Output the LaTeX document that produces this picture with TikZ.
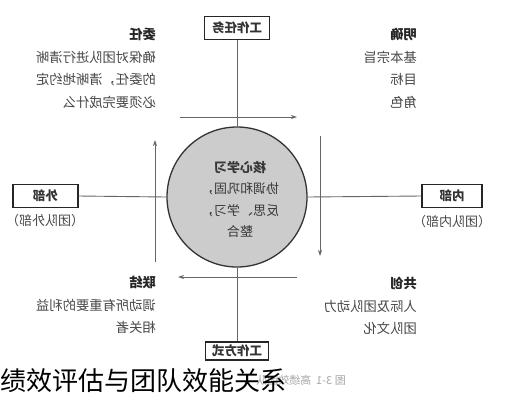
\documentclass[tikz,border=0pt]{standalone}
\usepackage{fontspec}
\usepackage{graphicx}
\newfontfamily\cjk{Noto Sans CJK SC}
\usetikzlibrary{arrows.meta}
\newcommand\mirblock[2][l]{\reflectbox{\begin{tabular}{@{}#1@{}}#2\end{tabular}}}
\begin{document}
\begin{tikzpicture}[x=1pt,y=-1pt,
  box/.style={draw=black!85,line width=1.3pt,minimum width=65pt,minimum height=23pt,inner sep=0pt,
    font=\cjk\bfseries\fontsize{12.5}{14}\selectfont,text=black!80},
  conn/.style={draw=black!60,line width=0.9pt},
  arr/.style={conn,-{Stealth[length=6pt,width=4pt]}},
  blk/.style={inner sep=0pt,font=\cjk\fontsize{13.3}{22.5}\selectfont,text=black!72},
  sub/.style={inner sep=0pt,font=\cjk\fontsize{13}{14}\selectfont,text=black!72},
]
\fill[white] (0,0) rectangle (508,400);
\useasboundingbox (0,0) rectangle (508,400);

% circle
\node[circle,draw=black!80,fill=black!20,line width=1.3pt,minimum size=140pt,inner sep=0pt] (core) at (237,197) {};
\node[blk,text=black!78,font=\cjk\fontsize{13}{21.5}\selectfont] (coretext) at (240,200)
  {\mirblock[c]{\textbf{核心学习}\\协调和巩固，\\反思、学习，\\整合}};

% boxes
\node[box] (task) at (237,28) {\reflectbox{工作任务}};
\node[box,minimum height=18pt,minimum width=63pt] (way) at (237,351) {\reflectbox{工作方式}};
\node[box] (ext) at (45.5,196) {\reflectbox{外部}};
\node[box,minimum width=60pt] (int) at (452,196) {\reflectbox{内部}};
\node[sub] (extlab) at (45,221) {\reflectbox{（团队外部）}};
\node[sub] (intlab) at (452,222) {\reflectbox{（团队内部）}};

% connectors
\draw[conn] (task.south) -- (core.north);
\draw[conn] (core.south) -- (way.north);
\draw[conn] (ext.east) -- (core.west);
\draw[conn] (core.east) -- (int.west);

% arrows
\coordinate (a1s) at (180,117); \coordinate (a1e) at (297,117);
\coordinate (a2s) at (320,136); \coordinate (a2e) at (320,256);
\coordinate (a3s) at (297,277); \coordinate (a3e) at (178,277);
\coordinate (a4s) at (155,262); \coordinate (a4e) at (155,140);
\draw[arr] (a1s) -- (a1e);
\draw[arr] (a2s) -- (a2e);
\draw[arr] (a3s) -- (a3e);
\draw[arr] (a4s) -- (a4e);

% quadrant texts
\node[blk,anchor=north east] (tl) at (156,24)
  {\mirblock{\textbf{\color{black!85}委任}\\确保对团队进行清晰\\的委任，清晰地约定\\必须要完成什么}};
\node[blk,anchor=north east] (tr) at (417,24)
  {\mirblock{\textbf{\color{black!85}明确}\\基本宗旨\\目标\\角色}};
\node[blk,anchor=north east] (bl) at (156,272)
  {\mirblock{\textbf{\color{black!85}联结}\\调动所有重要的利益\\相关者}};
\node[blk,anchor=north east] (br) at (417,273)
  {\mirblock{\textbf{\color{black!85}共创}\\人际及团队动力\\团队文化}};

% captions
\node[inner sep=0pt,anchor=east,font=\cjk\fontsize{11}{13}\selectfont,text=black!35] (fig) at (346,380)
  {\reflectbox{图 3-1 \ 高绩效团队}};
\node[inner sep=0pt,anchor=west,font=\cjk\fontsize{26}{30}\selectfont,text=black] (cap) at (0,381)
  {绩效评估与团队效能关系};
\end{tikzpicture}
\end{document}
